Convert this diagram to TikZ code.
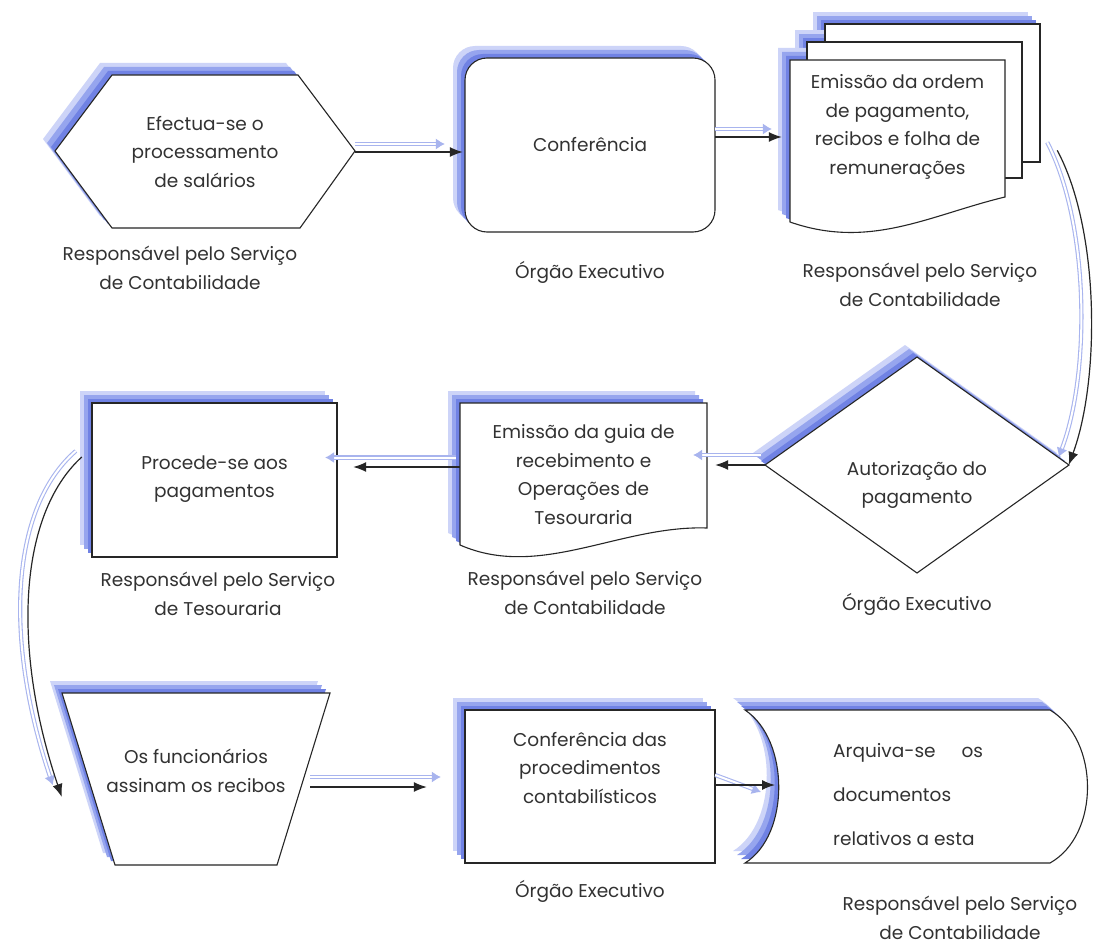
\documentclass[tikz,border=0pt]{standalone}
\usepackage{fontspec}
\setmainfont{Poppins}
\usetikzlibrary{arrows.meta}

\definecolor{shA}{RGB}{112,130,228}
\definecolor{shB}{RGB}{150,165,238}
\definecolor{shC}{RGB}{205,212,248}
\definecolor{trail}{RGB}{168,180,238}
\definecolor{ink}{RGB}{50,50,50}

\newcommand\bodyfont{\fontsize{18.5}{28.5}\selectfont}

% soft blue drop shadow cast towards the upper left
\newcommand\castshadow[2][]{%
  \fill[shC, shift={(-12,-12)}, #1] #2;
  \fill[shB, shift={(-8,-8)}, #1] #2;
  \fill[shA, shift={(-4,-4)}, #1] #2;
}
\newcommand\outline[2][]{\filldraw[fill=white, draw=black!85, line width=1.1pt, #1] #2;}

\tikzset{
  txt/.style={font=\bodyfont, text=ink, align=center, inner sep=0pt},
  flow/.style={draw=black!85, line width=1.2pt, -{Latex[length=13pt,width=10pt]}},
  trailpair/.style={draw=trail, double=white, double distance=2pt, line width=1.1pt,
    -{Latex[length=9pt,width=11pt]}},
}

\begin{document}
\begin{tikzpicture}[x=1pt,y=-1pt]
\useasboundingbox (0,0) rectangle (1102,944);
\fill[white] (0,0) rectangle (1102,944);

% ---------- shapes ----------
% hexagon
\castshadow{(55,151) -- (112,75) -- (298,75) -- (355,151) -- (300,228) -- (112,228) -- cycle}
\outline{(55,151) -- (112,75) -- (298,75) -- (355,151) -- (300,228) -- (112,228) -- cycle}
% rounded box
\castshadow[rounded corners=22pt]{(465,58) rectangle (715,232)}
\outline[rounded corners=22pt]{(465,58) rectangle (715,232)}
% stack of documents
\castshadow{(825,24) rectangle (1040,162)}
\castshadow{(807,42) rectangle (1022,178)}
\castshadow{(790,60) -- (1005,60) -- (1005,197) .. controls (930,215) and (870,250) .. (790,222) -- cycle}
\outline{(825,24) rectangle (1040,162)}
\outline{(807,42) rectangle (1022,178)}
\outline{(790,60) -- (1005,60) -- (1005,197) .. controls (930,215) and (870,250) .. (790,222) -- cycle}
% decision
\castshadow{(765,465) -- (917,357) -- (1069,465) -- (917,573) -- cycle}
\outline{(765,465) -- (917,357) -- (1069,465) -- (917,573) -- cycle}
% single document
\castshadow{(460,403) -- (707,403) -- (707,528) .. controls (620,525) and (540,580) .. (460,545) -- cycle}
\outline{(460,403) -- (707,403) -- (707,528) .. controls (620,525) and (540,580) .. (460,545) -- cycle}
% process box
\castshadow{(92,403) rectangle (337,557)}
\outline{(92,403) rectangle (337,557)}
% manual operation
\castshadow{(62,693) -- (330,693) -- (277,865) -- (115,865) -- cycle}
\outline{(62,693) -- (330,693) -- (277,865) -- (115,865) -- cycle}
% check box
\castshadow{(465,710) rectangle (715,863)}
\outline{(465,710) rectangle (715,863)}
% stored data
\castshadow{(745,710) -- (1050,710) .. controls (1100,740) and (1100,835) .. (1050,863) -- (745,863) .. controls (790,835) and (790,740) .. (745,710) -- cycle}
\outline{(745,710) -- (1050,710) .. controls (1100,740) and (1100,835) .. (1050,863) -- (745,863) .. controls (790,835) and (790,740) .. (745,710) -- cycle}

% ---------- texts ----------
\node[txt, minimum width=300, minimum height=153] (hex) at (205,152) {Efectua-se o\\processamento\\de salários};
\node[txt] (hexlbl) at (180,268) {Responsável pelo Serviço\\de Contabilidade};

\node[txt, minimum width=250, minimum height=174] (conf) at (590,145) {Conferência};
\node[txt] (conflbl) at (590,272) {Órgão Executivo};

\node[txt, minimum width=215, minimum height=133] (docs) at (897.5,127) {Emissão da ordem\\de pagamento,\\recibos e folha de\\remunerações};
\node[txt] (docslbl) at (920,285) {Responsável pelo Serviço\\de Contabilidade};

\node[txt, minimum width=303, minimum height=256] (diam) at (917,485) {Autorização do\\pagamento};
\node[txt] (diamlbl) at (917,604) {Órgão Executivo};

\node[txt, minimum width=247, minimum height=143] (guia) at (583.5,474.5) {Emissão da guia de\\recebimento e\\Operações de\\Tesouraria};
\node[txt] (guialbl) at (585,593) {Responsável pelo Serviço\\de Contabilidade};

\node[txt, minimum width=245, minimum height=154] (proc) at (214.5,479) {Procede-se aos\\pagamentos};
\node[txt] (proclbl) at (218,594) {Responsável pelo Serviço\\de Tesouraria};

\node[txt, minimum width=268, minimum height=156] (trap) at (196,771) {Os funcionários\\assinam os recibos};

\node[txt, minimum width=250, minimum height=116] (chk) at (590,768) {Conferência das\\procedimentos\\contabilísticos};
\node[txt] (chklbl) at (590,891) {Órgão Executivo};

\node[txt, align=left, anchor=west, font=\fontsize{18.5}{44}\selectfont] (arq) at (833,795) {Arquiva-se\hspace{1.4em}os\\documentos\\relativos a esta};
\node[txt] (arqlbl) at (960,918) {Responsável pelo Serviço\\de Contabilidade};

% ---------- connectors ----------
% hexagon -> rounded box
\draw[trailpair] ([yshift=8pt]hex.east) -- ([xshift=-20pt,yshift=8pt]hex.east -| conf.west);
\draw[flow, shorten >=2pt] (hex.east) -- (hex.east -| conf.west);
% rounded box -> documents
\draw[trailpair] ([yshift=16pt]conf.east) -- ([xshift=-18pt,yshift=16pt]conf.east -| docs.west);
\draw[flow, shorten >=8pt] ([yshift=8pt]conf.east) -- ([yshift=8pt]conf.east -| docs.west);
% documents -> decision
\draw[trailpair] ([xshift=42pt,yshift=-82pt]docs.north east) .. controls (1090,225) and (1090,375) .. ([xshift=-10pt,yshift=28pt]diam.east);
\draw[flow] ([xshift=52pt,yshift=-90pt]docs.north east) .. controls (1100,230) and (1100,380) .. ([yshift=20pt]diam.east);
% decision -> single document
\draw[trailpair] ([xshift=-4pt,yshift=30pt]diam.west) -- ([xshift=-14pt,yshift=30pt]diam.west -| guia.east);
\draw[flow, shorten >=8pt] ([yshift=20pt]diam.west) -- ([yshift=20pt]diam.west -| guia.east);
% single document -> process box
\draw[trailpair] ([xshift=-4pt,yshift=17pt]guia.west) -- ([xshift=-12pt,yshift=17pt]guia.west -| proc.east);
\draw[flow, shorten >=16pt] ([yshift=7.5pt]guia.west) -- ([yshift=7.5pt]guia.west -| proc.east);
% process box -> manual operation
\draw[trailpair] ([xshift=-16pt,yshift=28pt]proc.west) .. controls (10,508) and (4,640) .. ([xshift=-9pt,yshift=-14pt]trap.west);
\draw[flow] ([xshift=-10pt,yshift=22pt]proc.west) .. controls (18,515) and (12,650) .. ([yshift=-26pt]trap.west);
% manual operation -> check box
\draw[trailpair] ([xshift=-20pt,yshift=-6pt]trap.east) -- ([xshift=-24pt,yshift=-6pt]trap.east -| chk.west);
\draw[flow, shorten >=18pt] ([xshift=-20pt,yshift=-16pt]trap.east) -- ([xshift=-20pt,yshift=-16pt]trap.east -| chk.west);
% check box -> stored data
\draw[trailpair] ([yshift=-7pt]chk.east) -- ([xshift=-72pt,yshift=3pt]arq.west);
\draw[flow] ([yshift=-17pt]chk.east) -- ([xshift=-58pt,yshift=10pt]arq.west);
\end{tikzpicture}
\end{document}
